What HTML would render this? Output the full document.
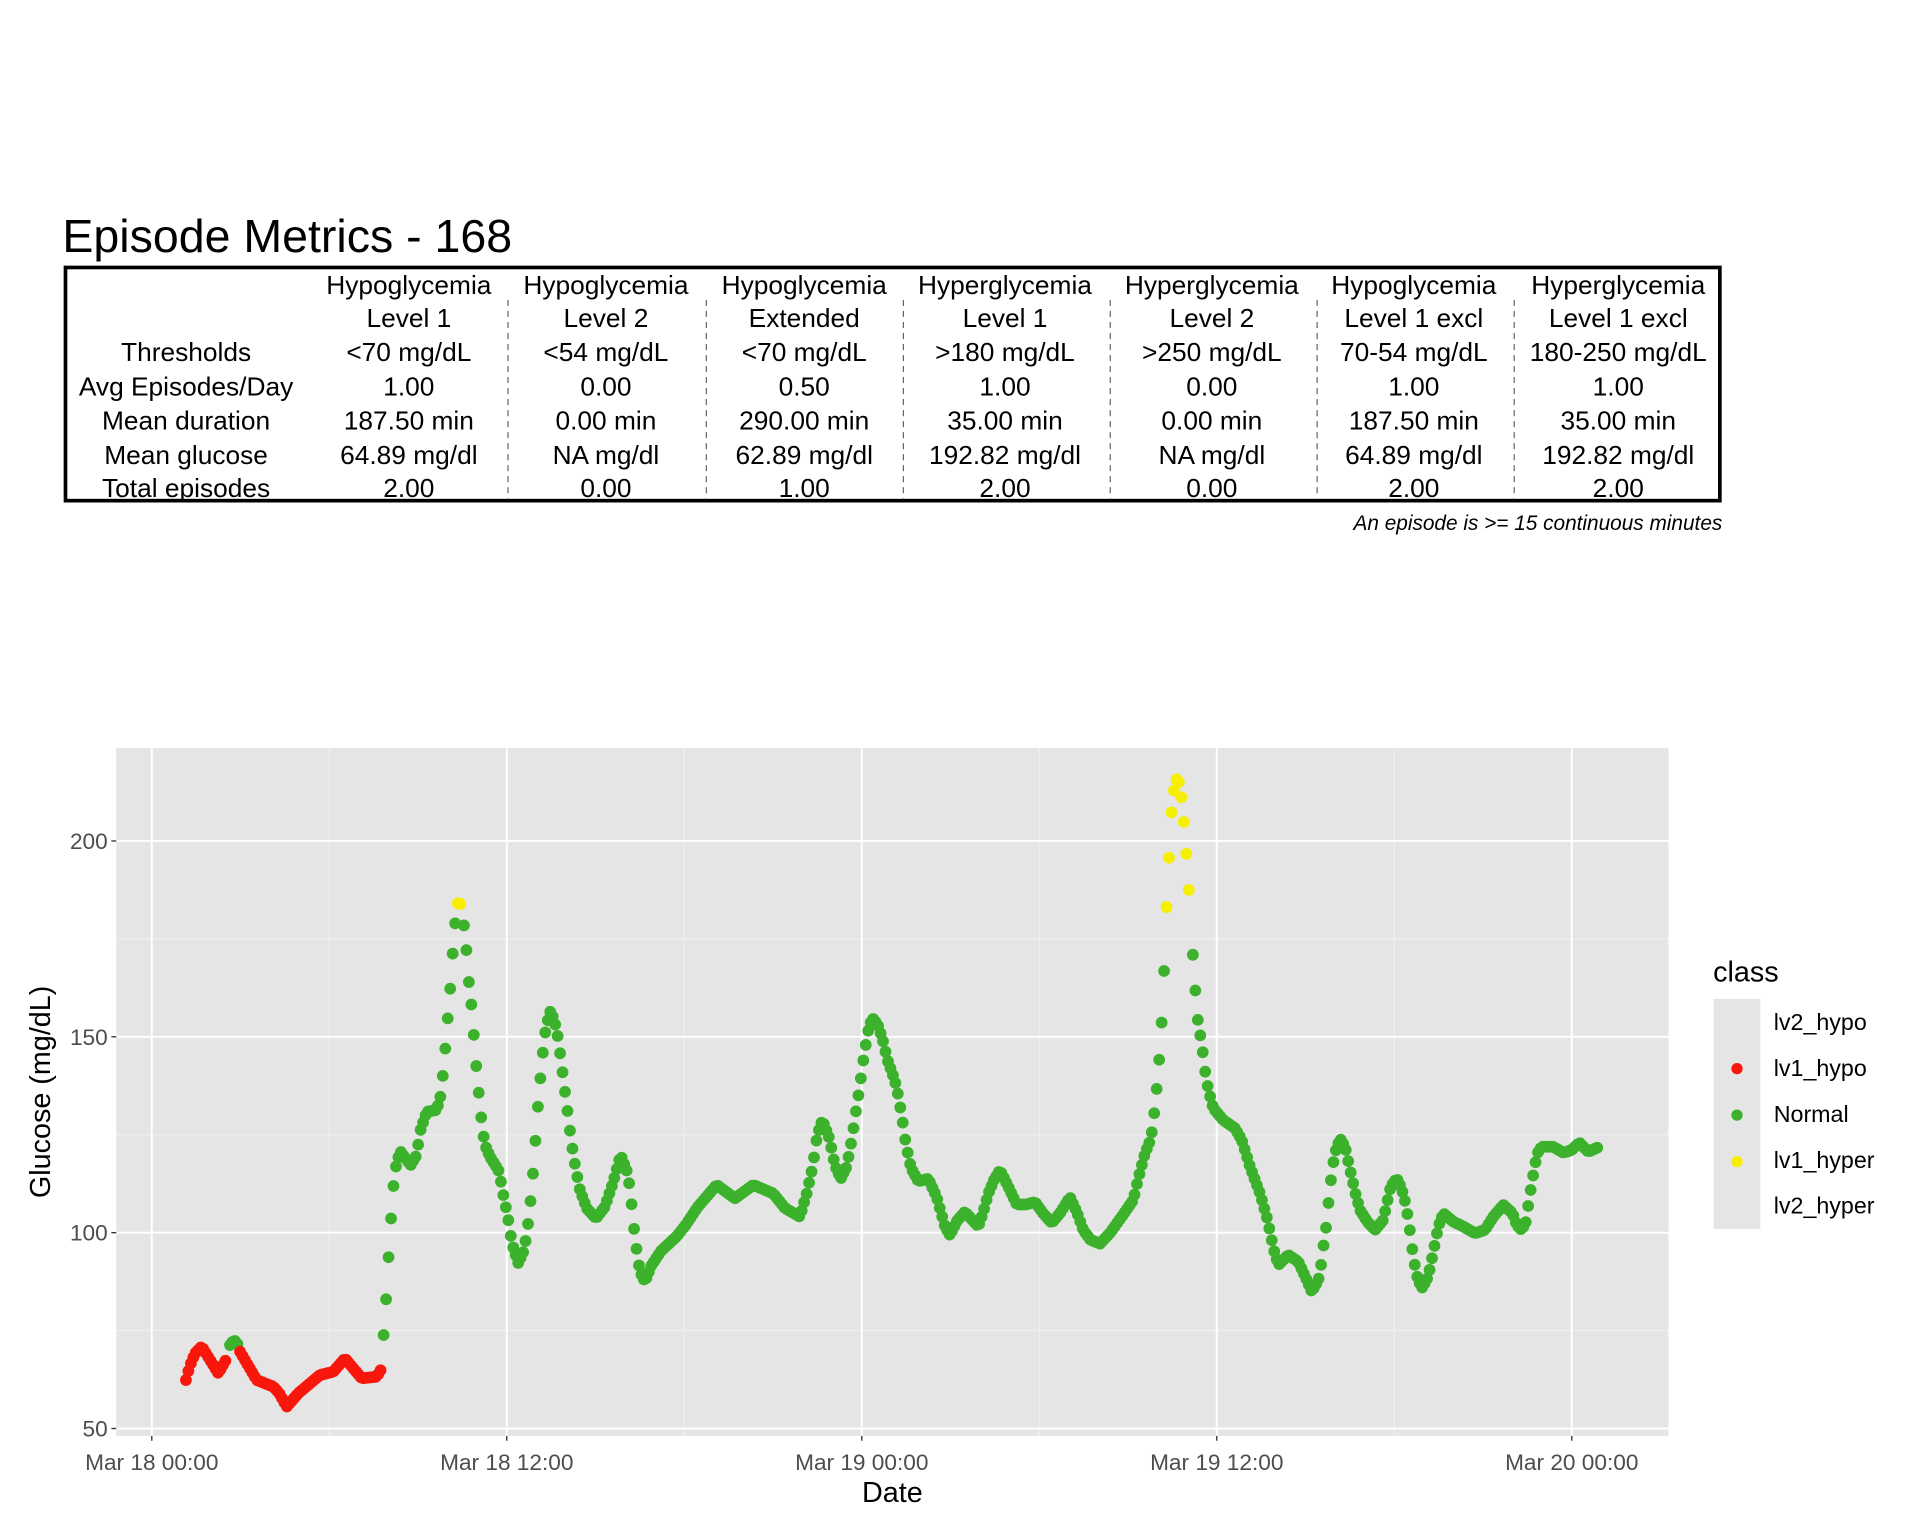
<!DOCTYPE html>
<html><head><meta charset="utf-8"><style>
html,body{margin:0;padding:0;background:#fff;}
svg{display:block;font-family:"Liberation Sans",Arial,sans-serif;}
</style></head><body>
<svg id="s" width="1920" height="1536" viewBox="0 -1 1568.5 1254.8" preserveAspectRatio="none" xmlns="http://www.w3.org/2000/svg">
<rect x="0" y="-1" width="1568.5" height="1254.8" fill="#fff"/>
<text x="51" y="205" font-size="38" fill="#000">Episode Metrics - 168</text>
<rect x="53.5" y="217.5" width="1351.5" height="190.5" fill="none" stroke="#000" stroke-width="3"/>
<g stroke="#666" stroke-width="1" stroke-dasharray="5,4">
<line x1="415" y1="244" x2="415" y2="407"/><line x1="577" y1="244" x2="577" y2="407"/>
<line x1="738" y1="244" x2="738" y2="407"/><line x1="907" y1="244" x2="907" y2="407"/>
<line x1="1076" y1="244" x2="1076" y2="407"/><line x1="1237" y1="244" x2="1237" y2="407"/>
</g>
<g font-size="21.5" text-anchor="middle" fill="#000">
<text x="334" y="239">Hypoglycemia</text><text x="495" y="239">Hypoglycemia</text><text x="657" y="239">Hypoglycemia</text><text x="821" y="239">Hyperglycemia</text><text x="990" y="239">Hyperglycemia</text><text x="1155" y="239">Hypoglycemia</text><text x="1322" y="239">Hyperglycemia</text>
<text x="334" y="266">Level 1</text><text x="495" y="266">Level 2</text><text x="657" y="266">Extended</text><text x="821" y="266">Level 1</text><text x="990" y="266">Level 2</text><text x="1155" y="266">Level 1 excl</text><text x="1322" y="266">Level 1 excl</text>
<text x="152" y="294">Thresholds</text><text x="334" y="294">&lt;70 mg/dL</text><text x="495" y="294">&lt;54 mg/dL</text><text x="657" y="294">&lt;70 mg/dL</text><text x="821" y="294">&gt;180 mg/dL</text><text x="990" y="294">&gt;250 mg/dL</text><text x="1155" y="294">70-54 mg/dL</text><text x="1322" y="294">180-250 mg/dL</text>
<text x="152" y="322">Avg Episodes/Day</text><text x="334" y="322">1.00</text><text x="495" y="322">0.00</text><text x="657" y="322">0.50</text><text x="821" y="322">1.00</text><text x="990" y="322">0.00</text><text x="1155" y="322">1.00</text><text x="1322" y="322">1.00</text>
<text x="152" y="350">Mean duration</text><text x="334" y="350">187.50 min</text><text x="495" y="350">0.00 min</text><text x="657" y="350">290.00 min</text><text x="821" y="350">35.00 min</text><text x="990" y="350">0.00 min</text><text x="1155" y="350">187.50 min</text><text x="1322" y="350">35.00 min</text>
<text x="152" y="378">Mean glucose</text><text x="334" y="378">64.89 mg/dl</text><text x="495" y="378">NA mg/dl</text><text x="657" y="378">62.89 mg/dl</text><text x="821" y="378">192.82 mg/dl</text><text x="990" y="378">NA mg/dl</text><text x="1155" y="378">64.89 mg/dl</text><text x="1322" y="378">192.82 mg/dl</text>
<text x="152" y="405">Total episodes</text><text x="334" y="405">2.00</text><text x="495" y="405">0.00</text><text x="657" y="405">1.00</text><text x="821" y="405">2.00</text><text x="990" y="405">0.00</text><text x="1155" y="405">2.00</text><text x="1322" y="405">2.00</text>
</g>
<text x="1407" y="432" font-size="17" font-style="italic" text-anchor="end">An episode is &gt;= 15 continuous minutes</text>

<rect x="95" y="610" width="1268" height="562" fill="#e5e5e5"/>
<g stroke="#f2f2f2" stroke-width="0.8">
<line x1="95" x2="1363" y1="1086" y2="1086"/><line x1="95" x2="1363" y1="926" y2="926"/><line x1="95" x2="1363" y1="766" y2="766"/>
<line x1="269" x2="269" y1="610" y2="1172"/><line x1="559" x2="559" y1="610" y2="1172"/><line x1="849" x2="849" y1="610" y2="1172"/><line x1="1139" x2="1139" y1="610" y2="1172"/>
</g>
<g stroke="#fff" stroke-width="1.6">
<line x1="95" x2="1363" y1="1166" y2="1166"/><line x1="95" x2="1363" y1="1006" y2="1006"/><line x1="95" x2="1363" y1="846" y2="846"/><line x1="95" x2="1363" y1="686" y2="686"/>
<line x1="124" x2="124" y1="610" y2="1172"/><line x1="414" x2="414" y1="610" y2="1172"/><line x1="704" x2="704" y1="610" y2="1172"/><line x1="994" x2="994" y1="610" y2="1172"/><line x1="1284" x2="1284" y1="610" y2="1172"/>
</g>
<g stroke="#333" stroke-width="1.1">
<line x1="91" x2="95" y1="1166" y2="1166"/><line x1="91" x2="95" y1="1006" y2="1006"/><line x1="91" x2="95" y1="846" y2="846"/><line x1="91" x2="95" y1="686" y2="686"/>
<line x1="124" x2="124" y1="1172" y2="1176"/><line x1="414" x2="414" y1="1172" y2="1176"/><line x1="704" x2="704" y1="1172" y2="1176"/><line x1="994" x2="994" y1="1172" y2="1176"/><line x1="1284" x2="1284" y1="1172" y2="1176"/>
</g>
<g font-size="18.5" fill="#4d4d4d" text-anchor="end">
<text x="88" y="1172.5">50</text><text x="88" y="1012.5">100</text><text x="88" y="852.5">150</text><text x="88" y="692.5">200</text>
</g>
<g font-size="18.5" fill="#4d4d4d" text-anchor="middle">
<text x="124" y="1200">Mar 18 00:00</text><text x="414" y="1200">Mar 18 12:00</text><text x="704" y="1200">Mar 19 00:00</text><text x="994" y="1200">Mar 19 12:00</text><text x="1284" y="1200">Mar 20 00:00</text>
</g>
<text x="729" y="1226" font-size="23.5" text-anchor="middle">Date</text>
<text transform="translate(41,891) rotate(-90)" font-size="23.5" text-anchor="middle">Glucose (mg/dL)</text>

<text x="1399.5" y="801" font-size="23.5">class</text>
<rect x="1400" y="815" width="38" height="188" fill="#e5e5e5"/>
<circle cx="1419" cy="872" r="4.6" fill="#f8170c"/>
<circle cx="1419" cy="910" r="4.6" fill="#3cb12c"/>
<circle cx="1419" cy="948" r="4.6" fill="#f7ef00"/>
<g font-size="19" fill="#000">
<text x="1449" y="840.5">lv2_hypo</text><text x="1449" y="878">lv1_hypo</text><text x="1449" y="915.5">Normal</text><text x="1449" y="953">lv1_hyper</text><text x="1449" y="990.5">lv2_hyper</text>
</g>
<g id="pts"></g>
</svg>
<script>
var R="#f8170c",G="#3cb12c",Y="#f7ef00";
var segs=[
[R,[[151.9,1126.4],[155,1115],[159.3,1104.6],[164.8,1099],[171,1109],[178.4,1120.9],[185.2,1108.7]]],
[G,[[187.9,1097.8],[191.2,1093.7],[194.7,1097.8]]],
[R,[[196.1,1103.2],[209.7,1126.4],[223.3,1131.8],[228,1137],[234.2,1148.2],[243.7,1137.2],[261.4,1122.3],[272.3,1119.6],[281.8,1108.7],[295.5,1125],[307.7,1123.7],[311,1118.2],[311.2,1108.1]]],
[G,[[313.4,1089.6],[315.3,1062.4],[317.2,1029.7],[319.4,995],[321.6,966],[324,948],[327.3,939.8],[331,945],[335.5,950.7],[340.4,942.5],[343.1,923.5],[348.6,907.2],[356.7,905.8],[360,894],[361.6,879.4],[363.5,858.7],[365.7,831.7],[368,804],[370,775],[372,751]]],
[Y,[[374,737],[375,735],[377,740]]],
[G,[[379,755],[381,775],[383,801],[385.9,827.4],[387.8,855.4],[390,880.5],[392.1,902.2],[394,920.5],[396.2,934.4],[400.3,944],[407.1,954.8],[409.8,967],[412,979.9],[414.4,990.2],[416.4,1003.3],[418.3,1015],[423.4,1031],[427.5,1021.6],[430.2,1008.7],[432.2,991.8],[434.3,971.2],[436.5,944.2],[438.4,916.4],[440.3,891.6],[442.5,869],[444.4,848.9],[446.6,835.5],[449.9,824.1],[454.2,838.2],[456.4,850],[458.3,865.7],[460.5,881.9],[462.4,897.9],[464.6,914],[466.5,930.3],[468.7,944.2],[470.5,954.8],[473.8,971.2],[479.3,986.1],[486.9,994.3],[494.2,984.8],[501,964.4],[507,942.5],[512.8,957.5],[514.9,972.5],[516.9,992.1],[518.7,1010.3],[520.9,1025.6],[522.8,1037.9],[526.9,1046],[532,1033],[540,1021],[552.8,1009],[560,1000],[570,985],[585.5,967],[600.4,978],[615.4,967],[631.7,974],[641.3,986],[653.5,993],[659,974],[663.9,952],[667.7,926],[671.8,914],[677.5,929],[682.1,951],[686.8,962],[691.7,952],[696,929],[699.8,903],[702,889],[706,860],[710,837],[713,831],[717,836],[721,848],[725,865],[729,876],[732.5,887],[736.6,910],[740.1,934],[744.2,953],[750.2,964],[758.4,962],[765.2,977],[772,1001],[776,1008],[782,996],[788.3,989],[799.2,1001],[803,990],[807.4,974],[812,963],[816.9,955],[823,967],[830.6,983],[838,983],[845.5,981],[852,990],[859.2,998],[866,990],[874.1,977],[880,990],[885,1004],[891,1012],[898.6,1015],[907,1006],[916.3,993],[925.8,979.3],[929.9,961.6],[935.4,941.2],[940,929.8],[941.7,918.9],[943.8,900.9],[946,877],[948.2,848.6],[950,815],[951.5,780]]],
[Y,[[953,740],[955,700],[956.5,668],[958.5,648],[960.5,636],[962.5,635],[964.5,645],[966.5,663],[968.5,688],[970.5,716],[972.5,748]]],
[G,[[974.5,779],[976.5,808],[978.5,832],[982,854],[984.1,871.5],[986,883.5],[987.9,892.2],[991.2,904.4],[999.3,914],[1008.9,920.7],[1014.4,930.3],[1021.2,952.1],[1029.3,973.8],[1034.8,993],[1036.9,1002.4],[1038.9,1012],[1040.8,1020.7],[1044.3,1032.4],[1052.4,1024.2],[1060.6,1029.7],[1067.5,1044.6],[1071.6,1054.2],[1077,1044.6],[1078.9,1035.1],[1080.5,1021.5],[1083,1004.6],[1084.9,985.3],[1086.8,967.1],[1088.7,951.5],[1090.9,939.9],[1094.7,929],[1098.8,935.8],[1100.7,944.4],[1102.8,954.2],[1105,963.8],[1106.9,972.5],[1111,987.5],[1117,997],[1123.3,1003.8],[1130,995.6],[1133,982],[1136.1,968.4],[1141,961.6],[1144.3,968.4],[1147,976.6],[1149.1,986.9],[1151.3,1000.5],[1153.2,1015.8],[1155.1,1028.6],[1157.3,1040.8],[1161.4,1051.5],[1165.5,1044.6],[1167.4,1038.4],[1169.3,1029.7],[1171.2,1020.2],[1173.1,1010.6],[1175,1001],[1179.1,990.2],[1187.2,997],[1195.4,1001],[1205,1006.5],[1213.1,1003.8],[1219.9,993],[1228.1,983.4],[1235.7,990.2],[1239,999.7],[1243.1,1003.8],[1246.6,997],[1248,986.9],[1249.9,974.2],[1252.1,961.1],[1254,950.7],[1255.9,941.2],[1259.4,935.8],[1268.9,935.8],[1277.1,940.7],[1283.9,938.5],[1290.2,932.5],[1297.5,939.9],[1306.5,935.8]]]
];
var g=document.getElementById("pts"),ns="http://www.w3.org/2000/svg",step=2.014;
segs.forEach(function(s){
  var p=s[1],x0=p[0][0],x1=p[p.length-1][0],j=0;
  for(var x=x0;x<=x1+0.01;x+=step){
    while(j<p.length-2&&p[j+1][0]<x)j++;
    var a=p[j],b=p[j+1]||a,t=b[0]==a[0]?0:(x-a[0])/(b[0]-a[0]);
    if(t<0)t=0;if(t>1)t=1;
    var y=a[1]+(b[1]-a[1])*t;
    var c=document.createElementNS(ns,"circle");
    c.setAttribute("cx",x.toFixed(2));c.setAttribute("cy",y.toFixed(2));
    c.setAttribute("r","4.8");c.setAttribute("fill",s[0]);g.appendChild(c);
  }
});
</script>
</body></html>
